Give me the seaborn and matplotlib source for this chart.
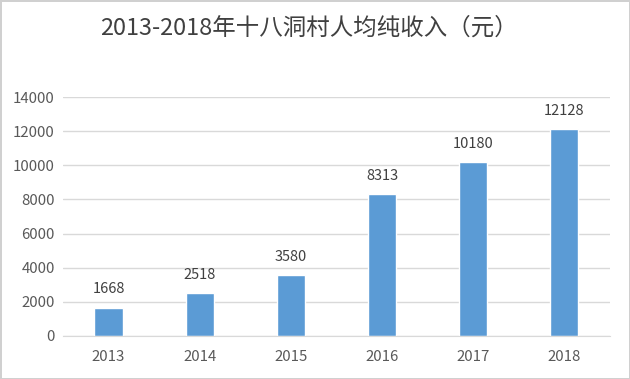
import matplotlib
matplotlib.use("Agg")
import matplotlib.pyplot as plt
import seaborn as sns
import pandas as pd

years = ["2013", "2014", "2015", "2016", "2017", "2018"]
income = [1668, 2518, 3580, 8313, 10180, 12128]
title = "2013-2018年十八洞村人均纯收入（元）"

sns.set_style("white")
plt.rcParams['font.family'] = ['Noto Sans CJK SC', 'DejaVu Sans']

df = pd.DataFrame({"year": years, "income": income})

fig = plt.figure(figsize=(6.3, 3.79), dpi=100)
fig.patch.set_edgecolor('#D0D0D0')
fig.patch.set_linewidth(2)
ax = fig.add_axes([0.1, 0.1135, 0.868, 0.6305])

sns.barplot(data=df, x="year", y="income", color="#5B9BD5", width=0.31,
            saturation=1, ax=ax)

ax.set_ylim(0, 14000)
ax.set_yticks(range(0, 14001, 2000))
ax.yaxis.grid(True, color='#D9D9D9', linewidth=1)
ax.set_axisbelow(True)
for s in ['top', 'right', 'left']:
    ax.spines[s].set_visible(False)
ax.spines['bottom'].set_color('#D9D9D9')
ax.tick_params(axis='both', length=0, labelsize=10.8, colors='#595959')
ax.tick_params(axis='x', pad=10)
ax.tick_params(axis='y', pad=6)
ax.set_xlabel("")
ax.set_ylabel("")

for container in ax.containers:
    ax.bar_label(container, labels=[str(v) for v in income], padding=8,
                 fontsize=10.5, color='#404040')

fig.text(0.49, 0.926, title, ha='center', va='center', fontsize=16.9, color='#404040')

fig.savefig("out.png", dpi=100)
